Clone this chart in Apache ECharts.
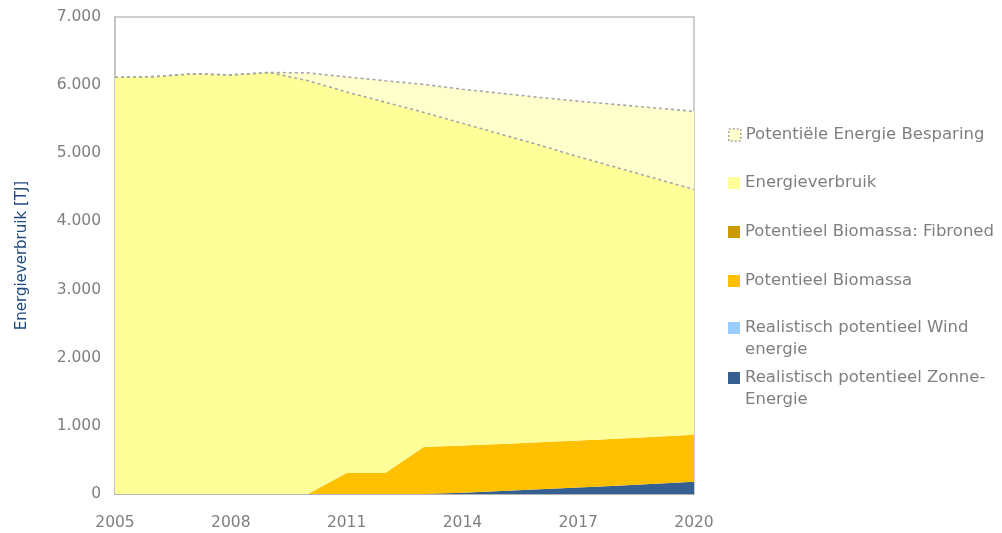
<!DOCTYPE html>
<html>
<head>
<meta charset="utf-8">
<script src="https://cdn.jsdelivr.net/npm/echarts@6/dist/echarts.min.js"></script>
<style>html,body{margin:0;padding:0;background:#fff}#c{width:1002px;height:533px}</style>
</head>
<body>
<div id="c"></div>
<script>
const years = ['2005','2006','2007','2008','2009','2010','2011','2012','2013','2014','2015','2016','2017','2018','2019','2020'];
const zonne    = [0,0,0,0,0,0,0,0,0,20,45,70,95,120,150,180];
const wind     = [0,0,0,0,0,0,0,0,0,0,0,0,0,0,0,0];
const biomassa = [0,0,0,0,0,0,310,310,690,690,690,690,690,690,690,690];
const fibroned = [0,0,0,0,0,0,0,0,0,0,0,0,0,0,0,0];
const verbruik = [6115,6125,6165,6150,6185,6065,5590,5440,4910,4730,4545,4360,4165,3980,3790,3600];
const besparing = [0,0,0,0,0,115,220,315,410,500,600,700,815,925,1035,1145];
const yTicks = [0,1000,2000,3000,4000,5000,6000,7000];

const names = {
  bes: 'Potentiële Energie Besparing',
  ver: 'Energieverbruik',
  fib: 'Potentieel Biomassa: Fibroned',
  bio: 'Potentieel Biomassa',
  wind: 'Realistisch potentieel Wind\nenergie',
  zon: 'Realistisch potentieel Zonne-\nEnergie'
};
const colors = {bes:'#FFFFCC', ver:'#FFFF99', fib:'#CC9900', bio:'#FFC000', wind:'#99CCFF', zon:'#376092'};
const FONT = 'DejaVu Sans';
const GRAY = '#7f7f7f';
const dashed = {color:'#a6a6a6', width:1.6, type:[3,3]};

function area(key, data, line){
  return {
    name: names[key], type:'line', stack:'t', data:data, symbol:'none', showSymbol:false,
    lineStyle: line || {width:0}, itemStyle:{color:colors[key]},
    areaStyle:{color:colors[key], opacity:1}, emphasis:{disabled:true}, z: 2
  };
}

const LH = 22;
const legendCenters = {bes:135, ver:183, fib:232, bio:281, wind:328, zon:378};
const legends = Object.keys(legendCenters).map(k => {
  const two = names[k].indexOf('\n') >= 0;
  const item = {name:names[k], itemStyle: k==='bes' ? {color:colors.bes, borderColor:'#a6a6a6', borderWidth:1.5, borderType:[2,2]} : {color:colors[k]}};
  return {
    data:[item], orient:'vertical', left:728,
    top: two ? legendCenters[k] - (3*LH)/2 : legendCenters[k] - LH/2,
    itemWidth:12, itemHeight:12, icon:'rect', selectedMode:false, padding:0,
    formatter: two ? (n => '\u00a0\n' + n) : (n => n),
    textStyle:{color:GRAY, fontFamily:FONT, fontSize:16.5, lineHeight:LH}
  };
});

const chart = echarts.init(document.getElementById('c'), null, {renderer:'canvas'});
chart.setOption({
  animation:false,
  backgroundColor:'#fff',
  grid:{left:115, right:308, top:17, bottom:39, show:true, borderColor:'#bfbfbf', borderWidth:1.5, backgroundColor:'transparent'},
  legend: legends,
  xAxis:{
    type:'category', data:years, boundaryGap:false,
    axisLine:{lineStyle:{color:'#b3b3b3', width:2}}, axisTick:{show:false},
    axisLabel:{interval:2, color:GRAY, fontFamily:FONT, fontSize:15.5, margin:21},
    splitLine:{show:false}
  },
  yAxis:{
    type:'value', min:yTicks[0], max:yTicks[yTicks.length-1], interval:1000,
    name:'Energieverbruik [TJ]', nameLocation:'middle', nameGap:85,
    nameTextStyle:{color:'#1F497D', fontFamily:FONT, fontSize:15},
    axisLine:{show:true, lineStyle:{color:'#bfbfbf', width:1.5}}, axisTick:{show:false},
    axisLabel:{color:GRAY, fontFamily:FONT, fontSize:15.5, margin:14,
      formatter: v => String(v).replace(/\B(?=(\d{3})+(?!\d))/g, '.')},
    splitLine:{show:false}
  },
  series:[
    area('zon', zonne),
    area('wind', wind),
    area('bio', biomassa),
    area('fib', fibroned),
    area('ver', verbruik, dashed),
    area('bes', besparing, dashed)
  ]
});
</script>
</body>
</html>
